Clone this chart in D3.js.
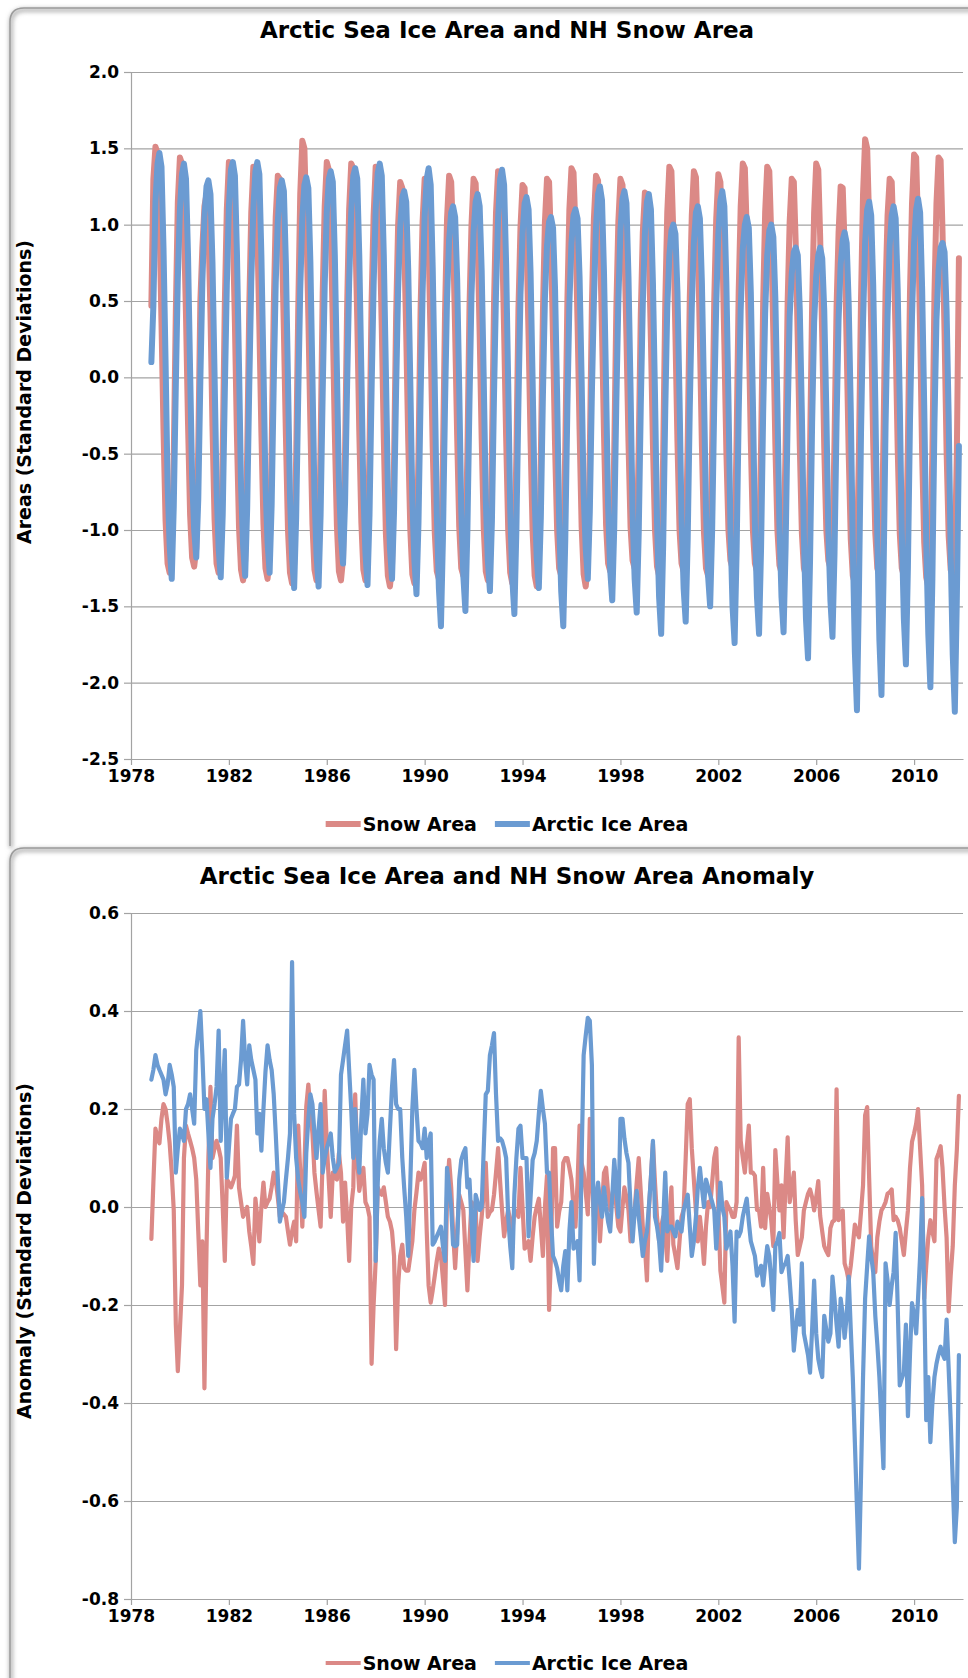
<!DOCTYPE html>
<html>
<head>
<meta charset="utf-8">
<script src="https://cdn.jsdelivr.net/npm/d3@7"></script>
<style>
  body { margin: 0; background: #fff; }
  svg { display: block; }
</style>
</head>
<body>
<svg id="chart" width="968" height="1678"></svg>
<script>
// monthly values, Nov 1978 .. Nov 2011 (397 months)
var seriesNames = ["Snow Area", "Arctic Ice Area"];
var xTickYears = [1978, 1982, 1986, 1990, 1994, 1998, 2002, 2006, 2010];
var areaTicks = [-2.5, -2.0, -1.5, -1.0, -0.5, 0.0, 0.5, 1.0, 1.5, 2.0];
var anomalyTicks = [-0.8, -0.6, -0.4, -0.2, 0.0, 0.2, 0.4, 0.6];

var snowArea = [
  0.47, 1.30,
  1.51, 1.47, 1.05, 0.36, -0.34, -0.94, -1.22, -1.28, -1.17, -0.52, 0.43, 1.15,
  1.44, 1.40, 1.00, 0.40, -0.30, -0.90, -1.18, -1.24, -1.12, -0.45, 0.50, 0.85,
  1.12, 1.20, 0.98, 0.42, -0.32, -0.93, -1.22, -1.28, -1.15, -0.48, 0.48, 1.10,
  1.41, 1.38, 0.97, 0.35, -0.38, -0.98, -1.26, -1.33, -1.20, -0.50, 0.46, 1.08,
  1.38, 1.34, 0.96, 0.33, -0.36, -0.96, -1.25, -1.32, -1.18, -0.47, 0.45, 1.05,
  1.32, 1.30, 0.92, 0.30, -0.38, -1.00, -1.28, -1.35, -1.22, -0.52, 0.44, 1.20,
  1.55, 1.50, 1.04, 0.40, -0.30, -0.96, -1.26, -1.33, -1.20, -0.44, 0.55, 1.12,
  1.41, 1.36, 0.98, 0.34, -0.36, -0.97, -1.27, -1.33, -1.19, -0.49, 0.47, 1.10,
  1.40, 1.37, 0.99, 0.38, -0.35, -0.95, -1.26, -1.33, -1.20, -0.46, 0.50, 1.06,
  1.38, 1.33, 0.95, 0.32, -0.40, -1.02, -1.30, -1.37, -1.23, -0.55, 0.40, 1.00,
  1.28, 1.24, 0.90, 0.28, -0.42, -1.00, -1.29, -1.35, -1.21, -0.50, 0.44, 1.02,
  1.30, 1.26, 0.86, 0.22, -0.46, -1.02, -1.27, -1.32, -1.20, -0.52, 0.42, 1.04,
  1.32, 1.28, 0.92, 0.30, -0.38, -0.98, -1.25, -1.30, -1.18, -0.49, 0.46, 1.00,
  1.30, 1.27, 0.90, 0.28, -0.40, -0.99, -1.27, -1.33, -1.20, -0.47, 0.48, 1.08,
  1.35, 1.31, 0.93, 0.30, -0.39, -1.00, -1.28, -1.35, -1.21, -0.50, 0.45, 0.98,
  1.26, 1.24, 0.90, 0.27, -0.42, -1.02, -1.30, -1.37, -1.22, -0.52, 0.43, 1.02,
  1.30, 1.28, 0.88, 0.25, -0.44, -1.00, -1.25, -1.30, -1.17, -0.46, 0.50, 1.10,
  1.37, 1.34, 0.97, 0.36, -0.34, -0.98, -1.29, -1.37, -1.22, -0.48, 0.47, 1.04,
  1.32, 1.29, 0.91, 0.30, -0.38, -0.97, -1.22, -1.27, -1.15, -0.47, 0.45, 1.02,
  1.30, 1.26, 0.88, 0.26, -0.42, -0.98, -1.20, -1.25, -1.14, -0.45, 0.42, 0.95,
  1.21, 1.20, 0.86, 0.24, -0.44, -1.00, -1.24, -1.30, -1.17, -0.50, 0.48, 1.08,
  1.38, 1.35, 0.94, 0.28, -0.42, -1.00, -1.22, -1.27, -1.15, -0.42, 0.52, 1.06,
  1.35, 1.31, 0.90, 0.25, -0.45, -1.02, -1.25, -1.30, -1.16, -0.44, 0.50, 1.04,
  1.33, 1.28, 0.88, 0.22, -0.48, -1.00, -1.20, -1.25, -1.12, -0.40, 0.56, 1.12,
  1.40, 1.37, 0.96, 0.30, -0.42, -1.00, -1.22, -1.27, -1.15, -0.45, 0.48, 1.08,
  1.38, 1.35, 0.93, 0.28, -0.43, -1.00, -1.23, -1.28, -1.16, -0.46, 0.50, 1.02,
  1.30, 1.28, 0.88, 0.24, -0.45, -1.02, -1.25, -1.30, -1.17, -0.47, 0.47, 1.08,
  1.40, 1.36, 0.92, 0.26, -0.46, -1.00, -1.20, -1.25, -1.12, -0.42, 0.46, 0.95,
  1.25, 1.24, 0.86, 0.20, -0.50, -1.06, -1.30, -1.35, -1.20, -0.48, 0.52, 1.20,
  1.56, 1.50, 1.02, 0.32, -0.44, -1.02, -1.25, -1.30, -1.17, -0.40, 0.56, 1.06,
  1.30, 1.28, 0.90, 0.24, -0.46, -1.02, -1.25, -1.30, -1.16, -0.43, 0.56, 1.14,
  1.46, 1.44, 0.98, 0.30, -0.50, -1.08, -1.31, -1.37, -1.22, -0.48, 0.54, 1.14,
  1.44, 1.42, 0.96, 0.28, -0.48, -1.04, -1.26, -1.30, -1.18, -0.50, 0.78
];

var iceArea = [
  0.10, 0.47,
  1.15, 1.40, 1.47, 1.38, 0.85, 0.10, -0.70, -1.10, -1.32, -0.85, -0.05, 0.65,
  1.10, 1.33, 1.40, 1.30, 0.80, 0.05, -0.65, -1.00, -1.18, -0.80, -0.02, 0.62,
  1.05, 1.25, 1.29, 1.20, 0.75, 0.02, -0.72, -1.12, -1.31, -0.90, -0.10, 0.60,
  1.12, 1.36, 1.41, 1.32, 0.82, 0.08, -0.70, -1.10, -1.30, -0.86, -0.06, 0.63,
  1.10, 1.35, 1.41, 1.33, 0.80, 0.06, -0.70, -1.08, -1.28, -0.84, -0.05, 0.62,
  1.02, 1.24, 1.29, 1.22, 0.74, -0.02, -0.78, -1.18, -1.38, -0.92, -0.12, 0.58,
  1.04, 1.26, 1.31, 1.24, 0.76, 0.00, -0.76, -1.16, -1.37, -0.90, -0.10, 0.60,
  1.08, 1.30, 1.35, 1.28, 0.80, 0.06, -0.68, -1.04, -1.22, -0.82, -0.04, 0.62,
  1.08, 1.32, 1.37, 1.30, 0.80, 0.04, -0.74, -1.15, -1.36, -0.90, -0.08, 0.60,
  1.10, 1.34, 1.40, 1.32, 0.80, 0.04, -0.72, -1.12, -1.32, -0.88, -0.08, 0.58,
  0.98, 1.18, 1.22, 1.15, 0.70, -0.04, -0.80, -1.20, -1.42, -0.95, -0.14, 0.55,
  1.06, 1.30, 1.37, 1.26, 0.72, -0.06, -0.88, -1.38, -1.63, -1.05, -0.18, 0.52,
  0.90, 1.08, 1.12, 1.05, 0.65, -0.08, -0.86, -1.30, -1.53, -1.00, -0.16, 0.54,
  0.95, 1.15, 1.20, 1.12, 0.70, -0.02, -0.80, -1.20, -1.40, -0.94, -0.12, 0.56,
  1.04, 1.30, 1.36, 1.26, 0.74, -0.04, -0.86, -1.32, -1.55, -1.00, -0.16, 0.54,
  0.94, 1.14, 1.18, 1.10, 0.68, -0.04, -0.80, -1.18, -1.38, -0.92, -0.12, 0.52,
  0.86, 1.02, 1.05, 0.98, 0.58, -0.12, -0.92, -1.40, -1.63, -1.06, -0.20, 0.48,
  0.88, 1.06, 1.10, 1.04, 0.66, -0.02, -0.76, -1.12, -1.32, -0.88, -0.10, 0.50,
  0.98, 1.20, 1.25, 1.16, 0.68, -0.06, -0.84, -1.26, -1.46, -0.98, -0.16, 0.50,
  0.96, 1.17, 1.22, 1.14, 0.66, -0.08, -0.88, -1.32, -1.54, -1.02, -0.18, 0.48,
  0.94, 1.15, 1.20, 1.10, 0.62, -0.12, -0.94, -1.44, -1.68, -1.10, -0.22, 0.46,
  0.80, 0.96, 1.00, 0.94, 0.56, -0.14, -0.92, -1.38, -1.60, -1.06, -0.20, 0.46,
  0.88, 1.08, 1.12, 1.04, 0.62, -0.10, -0.88, -1.30, -1.50, -1.00, -0.18, 0.48,
  0.94, 1.16, 1.22, 1.12, 0.62, -0.14, -0.98, -1.50, -1.74, -1.14, -0.24, 0.44,
  0.84, 1.00, 1.05, 0.98, 0.56, -0.16, -0.96, -1.44, -1.68, -1.12, -0.24, 0.42,
  0.80, 0.96, 1.00, 0.92, 0.52, -0.18, -0.96, -1.44, -1.67, -1.12, -0.26, 0.40,
  0.68, 0.82, 0.85, 0.80, 0.44, -0.24, -1.04, -1.58, -1.84, -1.20, -0.30, 0.36,
  0.66, 0.80, 0.85, 0.78, 0.44, -0.22, -1.00, -1.46, -1.70, -1.16, -0.30, 0.38,
  0.74, 0.90, 0.95, 0.88, 0.48, -0.22, -1.10, -1.80, -2.18, -1.40, -0.36, 0.36,
  0.88, 1.10, 1.15, 1.06, 0.60, -0.16, -1.04, -1.72, -2.08, -1.34, -0.32, 0.40,
  0.86, 1.06, 1.12, 1.04, 0.58, -0.16, -1.00, -1.58, -1.88, -1.24, -0.28, 0.40,
  0.88, 1.10, 1.17, 1.08, 0.58, -0.18, -1.06, -1.68, -2.03, -1.32, -0.30, 0.38,
  0.70, 0.85, 0.88, 0.82, 0.44, -0.26, -1.14, -1.82, -2.19, -1.45, -0.45
];

var snowAnomaly = [
  -0.065, 0.05,
  0.16, 0.14, 0.13, 0.18, 0.21, 0.20, 0.17, 0.13, 0.07, -0.006, -0.24, -0.335,
  -0.25, -0.16, 0.10, 0.166, 0.15, 0.135, 0.12, 0.10, 0.056, -0.05, -0.16, -0.07,
  -0.37, -0.085, 0.10, 0.245, 0.10, 0.12, 0.135, 0.12, 0.10, 0.00, -0.11, 0.056,
  0.05, 0.04, 0.05, 0.064, 0.166, 0.04, 0.01, -0.02, -0.01, 0.00, -0.05, -0.08,
  -0.116, 0.017, -0.02, -0.07, 0.00, 0.05, 0.00, 0.01, 0.017, 0.04, 0.07, 0.056,
  0.02, -0.02, -0.01, -0.015, -0.02, -0.05, -0.077, -0.05, -0.03, -0.07, 0.166, 0.07,
  -0.04, 0.08, 0.205, 0.25, 0.20, 0.15, 0.07, 0.03, -0.006, -0.04, 0.10, 0.237,
  0.13, 0.05, -0.02, 0.07, 0.06, 0.056, 0.11, 0.07, -0.03, 0.05, -0.02, -0.11,
  0.00, 0.04, 0.23, 0.10, 0.033, 0.06, 0.08, 0.01, 0.00, -0.02, -0.32, -0.20,
  -0.11, 0.04, 0.03, 0.025, 0.04, 0.01, -0.02, -0.03, -0.05, -0.10, -0.29, -0.16,
  -0.10, -0.077, -0.125, -0.13, -0.13, -0.10, -0.07, -0.006, 0.03, 0.07, 0.056, 0.07,
  0.09, -0.05, -0.16, -0.195, -0.17, -0.14, -0.11, -0.085, -0.10, -0.147, -0.20, 0.02,
  0.096, 0.04, -0.05, -0.125, -0.05, 0.025, 0.01, -0.006, -0.09, -0.17, -0.07, 0.01,
  0.005, 0.00, -0.11, -0.06, -0.02, 0.03, 0.09, -0.02, -0.01, -0.006, 0.025, 0.07,
  0.12, 0.05, -0.006, -0.06, -0.03, -0.006, -0.03, -0.05, -0.006, -0.01, -0.02, 0.08,
  0.00, -0.085, -0.08, -0.07, -0.11, -0.06, -0.02, 0.00, 0.017, -0.04, -0.10, 0.00,
  0.064, -0.21, -0.10, 0.12, 0.12, -0.04, -0.01, 0.01, 0.09, 0.10, 0.10, 0.08,
  0.056, 0.00, -0.04, 0.05, 0.166, 0.09, 0.07, 0.03, -0.015, 0.18, 0.05, -0.02,
  0.01, 0.04, -0.07, 0.00, 0.07, 0.08, 0.03, -0.006, 0.02, 0.056, 0.00, -0.04,
  -0.05, 0.00, 0.04, 0.02, -0.006, -0.07, -0.03, -0.006, 0.05, 0.10, 0.03, -0.04,
  -0.08, -0.15, -0.006, 0.06, 0.13, 0.05, -0.02, -0.07, -0.04, -0.02, -0.06, -0.11,
  -0.02, 0.04, -0.077, -0.10, -0.125, -0.07, -0.02, -0.006, 0.10, 0.21, 0.22, 0.12,
  0.056, -0.01, -0.07, -0.02, -0.06, -0.116, -0.04, 0.01, 0.00, 0.05, 0.10, 0.12,
  0.00, -0.13, -0.16, -0.195, 0.01, 0.00, -0.006, -0.02, -0.02, 0.01, 0.346, 0.135,
  0.10, 0.07, 0.12, 0.166, 0.07, 0.07, 0.064, -0.006, -0.007, -0.04, 0.08, -0.043,
  0.027, 0.00, -0.027, -0.08, 0.116, 0.05, -0.007, 0.044, -0.062, 0.05, 0.142, 0.01,
  0.04, 0.07, -0.027, -0.098, -0.08, -0.062, -0.007, 0.01, 0.027, 0.036, 0.02, -0.007,
  0.02, 0.053, -0.018, -0.05, -0.08, -0.09, -0.098, -0.043, -0.03, -0.027, 0.24, -0.027,
  -0.02, -0.007, -0.115, -0.13, -0.15, -0.12, -0.08, -0.036, -0.05, -0.062, -0.01, 0.044,
  0.187, 0.204, 0.06, -0.08, -0.11, -0.133, -0.062, -0.03, -0.007, 0.00, 0.01, 0.027,
  0.03, 0.036, -0.027, -0.02, -0.027, -0.043, -0.07, -0.098, -0.05, -0.007, 0.08, 0.133,
  0.15, 0.17, 0.20, 0.12, 0.044, -0.187, -0.12, -0.062, -0.027, -0.05, -0.07, 0.098,
  0.11, 0.124, 0.08, 0.00, -0.062, -0.213, -0.14, -0.08, 0.044, 0.116, 0.227
];

var iceAnomaly = [
  0.26, 0.28,
  0.31, 0.29, 0.28, 0.27, 0.26, 0.23, 0.25, 0.29, 0.27, 0.245, 0.07, 0.12,
  0.16, 0.15, 0.135, 0.20, 0.21, 0.23, 0.20, 0.17, 0.32, 0.36, 0.40, 0.31,
  0.20, 0.22, 0.15, 0.08, 0.18, 0.21, 0.245, 0.36, 0.135, 0.23, 0.32, 0.06,
  0.12, 0.18, 0.19, 0.20, 0.245, 0.25, 0.30, 0.38, 0.30, 0.25, 0.33, 0.30,
  0.28, 0.26, 0.15, 0.19, 0.115, 0.20, 0.276, 0.33, 0.30, 0.28, 0.23, 0.15,
  0.06, -0.03, -0.01, 0.01, 0.056, 0.10, 0.15, 0.50, 0.19, 0.10, 0.056, 0.03,
  0.01, -0.02, 0.11, 0.18, 0.23, 0.21, 0.15, 0.10, 0.16, 0.21, 0.07, 0.10,
  0.12, 0.135, 0.15, 0.10, 0.072, 0.08, 0.09, 0.27, 0.30, 0.33, 0.36, 0.28,
  0.20, 0.10, 0.20, 0.12, 0.07, 0.18, 0.26, 0.15, 0.19, 0.29, 0.27, 0.26,
  -0.11, 0.05, 0.135, 0.18, 0.12, 0.09, 0.07, 0.16, 0.245, 0.30, 0.21, 0.20,
  0.20, 0.10, 0.04, -0.02, -0.10, 0.05, 0.20, 0.28, 0.20, 0.135, 0.13, 0.12,
  0.16, 0.10, 0.13, 0.15, -0.077, -0.07, -0.06, -0.05, -0.04, -0.08, -0.11, 0.08,
  0.04, 0.00, -0.077, -0.08, -0.077, 0.056, 0.096, 0.11, 0.12, 0.04, 0.056, -0.03,
  -0.11, 0.025, 0.01, -0.006, 0.00, 0.12, 0.23, 0.237, 0.31, 0.33, 0.355, 0.23,
  0.135, 0.14, 0.135, 0.12, 0.10, -0.02, -0.08, -0.125, 0.025, 0.10, 0.16, 0.166,
  0.10, 0.10, 0.10, -0.06, 0.02, 0.096, 0.11, 0.135, 0.19, 0.237, 0.20, 0.17,
  0.07, 0.07, -0.02, -0.10, -0.11, -0.125, -0.15, -0.17, -0.12, -0.09, -0.17, -0.05,
  0.01, -0.085, -0.08, -0.07, -0.15, 0.10, 0.31, 0.35, 0.386, 0.38, 0.29, -0.116,
  0.02, 0.05, 0.01, -0.02, 0.04, 0.00, -0.03, -0.05, 0.02, 0.096, 0.04, -0.02,
  0.18, 0.18, 0.14, 0.11, 0.09, 0.00, -0.07, -0.01, 0.033, -0.02, -0.06, -0.10,
  -0.07, -0.05, 0.00, 0.06, 0.135, -0.02, -0.04, -0.07, -0.13, -0.03, 0.07, -0.05,
  -0.04, -0.04, -0.05, -0.06, -0.03, -0.04, -0.05, -0.006, 0.01, 0.025, -0.04, -0.10,
  -0.07, -0.02, 0.04, 0.08, 0.04, 0.00, 0.056, 0.04, 0.025, 0.01, -0.006, -0.085,
  -0.02, 0.05, 0.00, -0.02, -0.085, -0.07, -0.05, -0.12, -0.234, -0.05, -0.06, -0.05,
  -0.02, 0.00, 0.017, -0.03, -0.07, -0.085, -0.10, -0.14, -0.13, -0.12, -0.16, -0.12,
  -0.08, -0.10, -0.15, -0.21, -0.08, -0.07, -0.053, -0.133, -0.12, -0.115, -0.10, -0.15,
  -0.21, -0.293, -0.25, -0.21, -0.24, -0.115, -0.258, -0.28, -0.302, -0.338, -0.25, -0.15,
  -0.258, -0.31, -0.33, -0.347, -0.222, -0.25, -0.275, -0.258, -0.142, -0.187, -0.24, -0.285,
  -0.187, -0.22, -0.267, -0.222, -0.142, -0.25, -0.347, -0.48, -0.613, -0.738, -0.55, -0.347,
  -0.187, -0.12, -0.06, -0.10, -0.133, -0.222, -0.28, -0.347, -0.44, -0.533, -0.115, -0.15,
  -0.20, -0.16, -0.133, -0.053, -0.20, -0.364, -0.35, -0.338, -0.24, -0.427, -0.30, -0.196,
  -0.22, -0.258, -0.187, -0.10, 0.018, -0.17, -0.435, -0.347, -0.48, -0.40, -0.347, -0.32,
  -0.30, -0.285, -0.30, -0.31, -0.23, -0.33, -0.435, -0.56, -0.684, -0.613, -0.302
];

var snowColor = "#db8986";
var iceColor = "#6b9bd2";
var gridColor = "#a3a3a3";
var fontFamily = "'DejaVu Sans', Verdana, sans-serif";

var firstMonth = new Date(1978, 10, 1);
var plotLeft = 131, plotRight = 963;

var fmt = d3.formatLocale({decimal: ".", thousands: ",", grouping: [3], currency: ["", ""], minus: "-"}).format(".1f");

var x = d3.scaleTime()
  .domain([new Date(1978, 0, 1), new Date(2012, 0, 1)])
  .range([plotLeft, plotRight]);

var svg = d3.select("#chart");

// soft shadow for the panel frames
var defs = svg.append("defs");
defs.append("filter").attr("id", "blur")
  .attr("x", "-10%").attr("y", "-10%").attr("width", "120%").attr("height", "120%")
  .append("feGaussianBlur").attr("stdDeviation", 2);

function drawFrame(top, bottom) {
  var p = "M10," + bottom + " V" + (top + 14) + " Q10," + top + " 24," + top + " H990";
  svg.append("path").attr("d", p).attr("fill", "none")
    .attr("stroke", "#b5b5b5").attr("stroke-width", 4)
    .attr("transform", "translate(1,2)").attr("filter", "url(#blur)");
  svg.append("path").attr("d", p).attr("fill", "none")
    .attr("stroke", "#9a9a9a").attr("stroke-width", 1.5);
}

drawFrame(8, 846);
drawFrame(848, 1700);

function drawPanel(o) {
  var y = d3.scaleLinear().domain(o.domain).range([o.bottom, o.top]);
  var g = svg.append("g");

  // gridlines
  g.append("g")
    .attr("transform", "translate(" + plotLeft + ",0)")
    .call(d3.axisLeft(y).tickValues(o.ticks).tickSize(-(plotRight - plotLeft)).tickFormat(""))
    .call(function(a) {
      a.select(".domain").remove();
      a.selectAll("line").attr("stroke", gridColor).attr("stroke-width", 1.2);
    });

  // y axis with outward ticks and labels
  g.append("g")
    .attr("transform", "translate(" + plotLeft + ",0)")
    .call(d3.axisLeft(y).tickValues(o.ticks).tickFormat(fmt).tickSize(7).tickSizeOuter(0).tickPadding(5))
    .call(function(a) {
      a.attr("font-family", fontFamily).attr("font-size", 17).attr("font-weight", "bold");
      a.select(".domain").attr("stroke", gridColor).attr("stroke-width", 1.2);
      a.selectAll("line").attr("stroke", gridColor).attr("stroke-width", 1.2);
      a.selectAll("text").attr("fill", "#000");
    });

  // x axis
  g.append("g")
    .attr("transform", "translate(0," + o.bottom + ")")
    .call(d3.axisBottom(x)
      .tickValues(xTickYears.map(function(yr) { return new Date(yr, 0, 1); }))
      .tickFormat(d3.timeFormat("%Y")).tickSize(6).tickSizeOuter(0).tickPadding(5))
    .call(function(a) {
      a.attr("font-family", fontFamily).attr("font-size", 17).attr("font-weight", "bold");
      a.select(".domain").attr("stroke", gridColor).attr("stroke-width", 1.2);
      a.selectAll("line").attr("stroke", gridColor).attr("stroke-width", 1.2);
      a.selectAll("text").attr("fill", "#000");
    });

  var line = d3.line()
    .x(function(d, i) { return x(d3.timeMonth.offset(firstMonth, i)); })
    .y(function(d) { return y(d); });

  o.series.forEach(function(s) {
    g.append("path")
      .datum(s.values)
      .attr("d", line)
      .attr("fill", "none")
      .attr("stroke", s.color)
      .attr("stroke-width", o.lineWidth)
      .attr("stroke-linejoin", "round")
      .attr("stroke-linecap", "round");
  });

  // title
  g.append("text")
    .attr("x", 507).attr("y", o.titleY)
    .attr("text-anchor", "middle")
    .attr("font-family", fontFamily).attr("font-size", 23).attr("font-weight", "bold")
    .text(o.title);

  // y axis title
  g.append("text")
    .attr("transform", "translate(31," + o.yLabelY + ") rotate(-90)")
    .attr("text-anchor", "middle")
    .attr("font-family", fontFamily).attr("font-size", 19).attr("font-weight", "bold")
    .text(o.yLabel);

  // legend
  var legend = g.append("g");
  var cx = 0;
  o.series.forEach(function(s, i) {
    var item = legend.append("g").attr("transform", "translate(" + cx + ",0)");
    item.append("line")
      .attr("x1", 0).attr("x2", 35).attr("y1", 0).attr("y2", 0)
      .attr("stroke", s.color).attr("stroke-width", o.legendWidth);
    var t = item.append("text")
      .attr("x", 37).attr("y", 0).attr("dy", "0.35em")
      .attr("font-family", fontFamily).attr("font-size", 19).attr("font-weight", "bold")
      .text(s.name);
    cx += 37 + t.node().getComputedTextLength() + 18;
  });
  cx -= 18;
  legend.attr("transform", "translate(" + (507 - cx / 2) + "," + o.legendY + ")");
}

drawPanel({
  title: "Arctic Sea Ice Area and NH Snow Area",
  titleY: 38,
  yLabel: "Areas (Standard Deviations)",
  yLabelY: 392,
  domain: [-2.5, 2.0],
  ticks: areaTicks,
  top: 72, bottom: 759,
  lineWidth: 6,
  legendWidth: 6,
  legendY: 824,
  series: [
    {name: seriesNames[0], values: snowArea, color: snowColor},
    {name: seriesNames[1], values: iceArea, color: iceColor}
  ]
});

drawPanel({
  title: "Arctic Sea Ice Area and NH Snow Area Anomaly",
  titleY: 884,
  yLabel: "Anomaly (Standard Deviations)",
  yLabelY: 1251,
  domain: [-0.8, 0.6],
  ticks: anomalyTicks,
  top: 913, bottom: 1599,
  lineWidth: 4.2,
  legendWidth: 4,
  legendY: 1663,
  series: [
    {name: seriesNames[0], values: snowAnomaly, color: snowColor},
    {name: seriesNames[1], values: iceAnomaly, color: iceColor}
  ]
});
</script>
</body>
</html>
